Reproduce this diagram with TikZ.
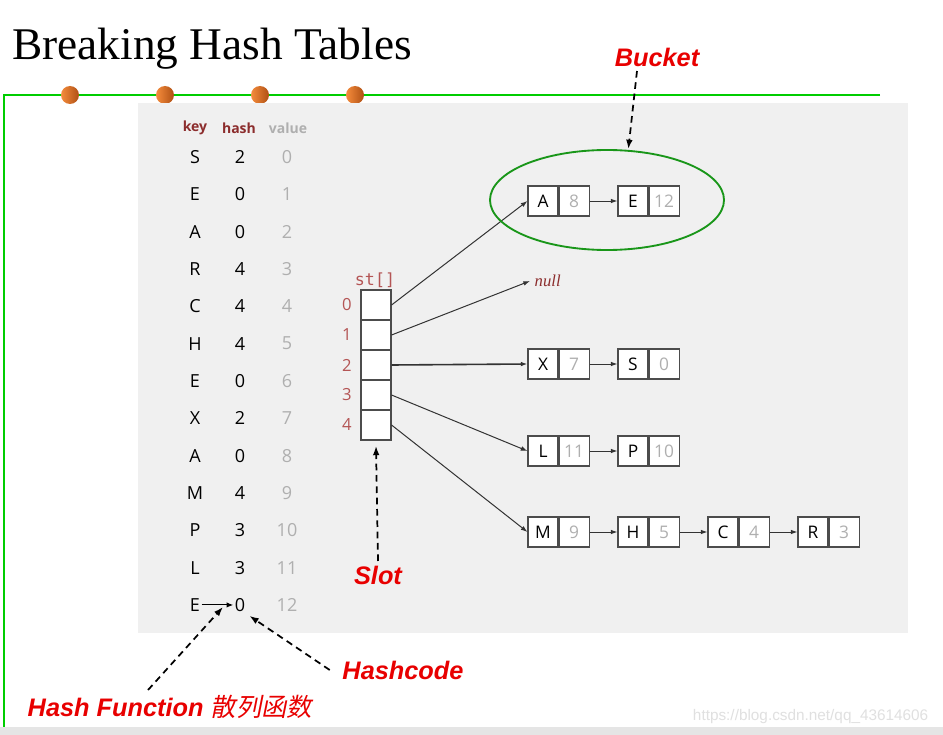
\documentclass[tikz,border=0pt]{standalone}
\usepackage{fontspec}
\setmainfont{Liberation Serif}
\setsansfont{Open Sans}
\setmonofont{DejaVu Sans Mono}
\newfontfamily\labelfont{Liberation Sans}
\newfontfamily\cjk[FakeSlant=0.2]{Noto Sans CJK SC}
\usetikzlibrary{arrows.meta,positioning,shapes.geometric}

\definecolor{panelgray}{RGB}{240,240,240}
\definecolor{keyred}{RGB}{140,45,45}
\definecolor{idxred}{RGB}{180,85,85}
\definecolor{valgray}{RGB}{175,175,175}
\definecolor{labelred}{RGB}{232,0,0}
\definecolor{rulegreen}{RGB}{0,205,0}
\definecolor{bucketgreen}{RGB}{25,150,25}
\definecolor{dotlight}{RGB}{245,140,60}
\definecolor{dotdark}{RGB}{175,80,20}

% one list entry: name, x, y, key, value
\newcommand\listnode[5]{%
  \node[cell] (#1) at (#2,#3) {#4};
  \node[valcell, right=0pt of #1] (#1v) {#5};}

\begin{document}
\begin{tikzpicture}[x=0.75pt,y=-0.75pt,
  cell/.style={draw=black!70,line width=0.8pt,fill=white,minimum width=22.5pt,minimum height=22.5pt,
    inner sep=0pt,font=\sffamily\fontsize{13}{15}\selectfont},
  valcell/.style={cell,text=valgray},
  slot/.style={draw=black!70,line width=0.8pt,fill=white,minimum width=22.5pt,minimum height=22.5pt,inner sep=0pt},
  tabtext/.style={font=\sffamily\fontsize{13.5}{15}\selectfont,inner sep=1pt},
  head/.style={font=\sffamily\bfseries\fontsize{10.5}{12}\selectfont,text=keyred},
  idx/.style={font=\sffamily\fontsize{12.5}{14}\selectfont,text=idxred},
  link/.style={-{Latex[length=5pt,width=3.5pt]},draw=black!80,line width=0.75pt},
  callout/.style={-{Latex[length=7pt,width=5pt]},line width=1.3pt,dash pattern=on 5pt off 3.5pt},
  tag/.style={text=labelred,font=\labelfont\bfseries\itshape\fontsize{19}{22}\selectfont},
  dot/.style={circle,minimum size=13.5pt,inner sep=0pt,left color=dotlight,right color=dotdark}]
\useasboundingbox (0,0) rectangle (943,735);
\fill[white] (0,0) rectangle (943,735);

% page frame
\node[anchor=base west,font=\fontsize{34}{40}\selectfont,inner sep=0pt] (title) at (12,60) {Breaking Hash Tables};
\draw[rulegreen,line width=0.9pt] (880,95) -- (4,95) -- (4,727);
\foreach \x [count=\i] in {70,165,260,355}
  \node[dot] (dot\i) at (\x,95) {};
\fill[panelgray] (138,103) rectangle (908,633);
\fill[black!10] (0,727) rectangle (943,735);
\node[anchor=east,font=\labelfont\fontsize{11.5}{13}\selectfont,text=black!12] (mark) at (933,717) {https://blog.csdn.net/qq\_43614606};

% key / hash / value table
\node[head] (hkey) at (195,128) {key};
\node[head] (hhash) at (239,128) {hash};
\node[head,text=valgray] (hval) at (288,128) {value};
\foreach \k/\h/\v [count=\i from 0] in {S/2/0,E/0/1,A/0/2,R/4/3,C/4/4,H/4/5,E/0/6,X/2/7,A/0/8,M/4/9,P/3/10,L/3/11,E/0/12}{
  \node[tabtext] (k\i) at (195,{157+37.33*\i}) {\k};
  \node[tabtext] (h\i) at (240,{157+37.33*\i}) {\h};
  \node[tabtext,text=valgray] (v\i) at (287,{157+37.33*\i}) {\v};
}
\draw[-{Latex[length=5pt,width=4pt]},thick] (k12) -- (h12);

% the array of slots
\node[font=\ttfamily\fontsize{12.5}{14}\selectfont,text=idxred] (st) at (375,280) {st[]};
\foreach \i in {0,...,4}{
  \node[slot] (s\i) at (376,{305+30*\i}) {};
  \node[idx] (n\i) at (347,{305+30*\i}) {\i};
}

% chains
\listnode{A8}{543}{201}{A}{8}
\listnode{E12}{633}{201}{E}{12}
\listnode{X7}{543}{364}{X}{7}
\listnode{S0}{633}{364}{S}{0}
\listnode{L11}{543}{451}{L}{11}
\listnode{P10}{633}{451}{P}{10}
\listnode{M9}{543}{532}{M}{9}
\listnode{H5}{633}{532}{H}{5}
\listnode{C4}{723}{532}{C}{4}
\listnode{R3}{813}{532}{R}{3}
\node[font=\itshape\fontsize{12.5}{14}\selectfont,text=keyred,anchor=west] (null) at (530,281) {null};

\draw[link] (s0.east) -- (A8.west);
\draw[link] (s1.east) -- (null.west);
\draw[link,line width=1.2pt] (s2.east) -- (X7.west);
\draw[link] (s3.east) -- (L11.west);
\draw[link] (s4.east) -- (M9.west);
\draw[link] (A8v.east) -- (E12.west);
\draw[link] (X7v.east) -- (S0.west);
\draw[link] (L11v.east) -- (P10.west);
\draw[link] (M9v.east) -- (H5.west);
\draw[link] (H5v.east) -- (C4.west);
\draw[link] (C4v.east) -- (R3.west);

% callouts
\node[ellipse,draw=bucketgreen,line width=1.4pt,minimum width=175.5pt,minimum height=75pt] (ring) at (607,200) {};
\node[tag] (buckettag) at (657,57) {Bucket};
\node[tag] (slottag) at (378,575) {Slot};
\node[tag] (hashtag) at (403,670) {Hashcode};
\node[tag,anchor=west] (fntag) at (23,707) {Hash Function {\cjk\mdseries 散列函数}};
\coordinate (fnfoot) at (148,690);
\coordinate (fnhead) at (223,607);

\draw[callout] ([xshift=-15pt]buckettag.south) -- ([xshift=16pt]ring.north);
\draw[callout] (slottag.north) -- ([yshift=-4pt]s4.south);
\draw[callout] ([xshift=-6pt]hashtag.west) -- ([xshift=2pt,yshift=-2pt]h12.south east);
\draw[callout] (fnfoot) -- (fnhead);
\end{tikzpicture}
\end{document}
